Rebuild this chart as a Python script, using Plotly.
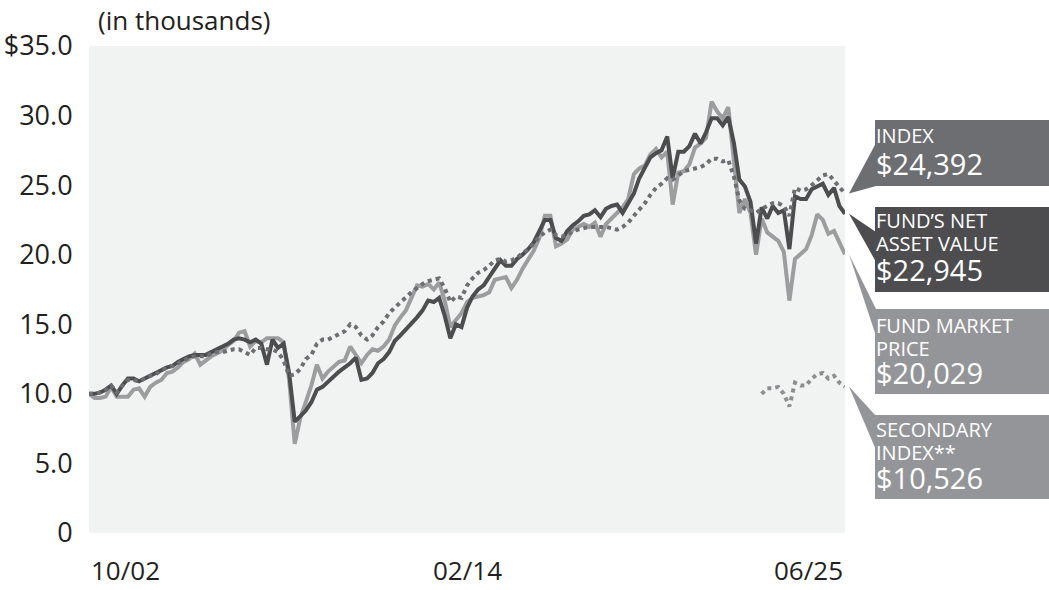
import plotly.graph_objects as go
import pandas as pd

# ---------------- data (values in $ thousands) ----------------
dates = pd.date_range("2002-10-01", "2025-06-01", freq="2MS")
sec_dates = pd.date_range("2022-12-01", "2025-06-01", freq="2MS")

nav = [
    10.0, 10.0, 10.1, 10.3, 10.6, 10.0, 10.6, 11.1, 11.1, 10.9,
    11.1, 11.3, 11.5, 11.7, 11.9, 12.0, 12.3, 12.5, 12.7, 12.8,
    12.8, 12.8, 13.0, 13.2, 13.4, 13.6, 13.9, 14.0, 13.9, 13.7,
    13.9, 13.6, 12.1, 13.9, 13.3, 13.6, 11.5, 8.0, 8.4, 8.8,
    9.4, 10.3, 10.5, 10.9, 11.3, 11.6, 11.9, 12.2, 12.6, 11.0,
    11.1, 11.5, 12.2, 12.5, 13.0, 13.8, 14.2, 14.6, 15.1, 15.5,
    16.0, 16.7, 16.6, 16.9, 15.6, 14.0, 15.0, 14.8, 16.2, 17.0,
    17.5, 17.8, 18.4, 19.0, 19.6, 19.2, 19.2, 19.7, 20.0, 20.4,
    20.9, 21.7, 22.5, 22.5, 21.2, 21.0, 21.7, 22.1, 22.4, 22.8,
    22.9, 23.2, 22.7, 23.3, 23.5, 23.6, 23.0, 23.7, 24.4, 25.5,
    26.3, 27.0, 27.3, 27.5, 28.5, 25.5, 27.4, 27.4, 27.8, 28.7,
    28.0, 28.8, 29.8, 29.8, 29.3, 29.9, 28.0, 25.4, 24.9, 23.8,
    20.8, 23.4, 22.6, 23.5, 23.0, 23.2, 20.4, 24.2, 24.0, 24.0,
    24.7, 24.9, 25.1, 24.3, 24.8, 23.5, 22.945,
]
market = [
    10.0, 9.7, 9.7, 9.8, 10.5, 9.8, 9.8, 9.8, 10.3, 10.4,
    9.8, 10.5, 10.8, 11.0, 11.5, 11.6, 11.9, 12.3, 12.5, 12.9,
    12.1, 12.4, 12.7, 12.9, 13.1, 13.5, 13.8, 14.4, 14.5, 13.4,
    13.8, 13.7, 14.0, 14.0, 14.0, 13.7, 11.0, 6.4, 8.3, 9.4,
    10.6, 12.1, 11.1, 11.6, 12.0, 12.3, 12.4, 13.4, 12.8, 12.2,
    12.8, 13.2, 13.1, 13.4, 13.9, 14.9, 15.5, 16.0, 16.9, 17.8,
    17.7, 17.9, 17.5, 18.0, 16.7, 14.8, 15.3, 15.8, 16.6, 16.9,
    17.0, 17.1, 17.3, 18.2, 18.3, 18.4, 17.6, 18.2, 19.0, 19.7,
    20.3, 21.2, 22.8, 22.8, 20.6, 20.8, 21.1, 21.8, 22.0, 22.2,
    22.0, 22.3, 21.3, 22.2, 22.6, 23.0, 23.4, 24.0, 25.8, 26.2,
    26.4, 27.2, 27.6, 27.0, 27.4, 23.6, 25.9, 26.0, 26.5, 27.7,
    28.0, 28.4, 31.0, 30.3, 29.8, 30.6, 27.0, 23.0, 24.0, 23.0,
    20.0, 22.6, 21.6, 21.3, 21.0, 20.2, 16.7, 19.7, 20.1, 20.4,
    21.4, 22.9, 22.5, 21.5, 21.7, 20.8, 20.029,
]
index = [
    10.0, 10.0, 10.1, 10.3, 10.6, 10.1, 10.6, 11.0, 11.0, 10.9,
    11.1, 11.3, 11.4, 11.7, 11.9, 12.0, 12.2, 12.4, 12.6, 12.7,
    12.7, 12.7, 12.9, 13.0, 13.0, 13.1, 13.2, 13.2, 13.0, 12.8,
    13.3, 13.3, 13.2, 13.2, 13.0, 12.4, 11.3, 11.4, 11.8, 12.5,
    12.8, 13.6, 13.9, 13.9, 14.1, 14.3, 14.5, 15.0, 14.8, 14.2,
    13.9, 14.2, 14.8, 15.2, 15.8, 16.2, 16.6, 16.9, 17.3, 17.6,
    17.9, 18.1, 18.2, 18.3, 17.6, 16.6, 17.0, 16.9, 17.8, 18.3,
    18.7, 18.9, 19.2, 19.6, 19.7, 19.5, 19.6, 19.8, 20.1, 20.4,
    20.8, 21.3, 21.6, 21.8, 21.4, 21.3, 21.4, 21.7, 21.8, 21.9,
    22.0, 22.0, 22.0, 22.0, 21.9, 21.8, 22.0, 22.3, 22.8, 23.2,
    23.7, 24.3, 24.8, 25.1, 25.5, 25.4, 25.7, 26.0, 26.1, 26.2,
    26.3, 26.5, 26.9, 26.9, 26.7, 26.8, 25.6, 23.9, 23.3, 23.2,
    23.0, 23.3, 23.5, 23.7, 23.7, 23.5, 22.8, 24.8, 24.6, 24.7,
    25.0, 25.4, 25.7, 25.8, 25.3, 24.8, 24.392,
]
secondary = [10.0, 10.4, 10.4, 10.5, 10.0, 9.1, 10.8, 10.6, 10.6, 11.1,
             11.4, 11.5, 11.1, 11.3, 10.8, 10.526]

y_ticks = [0, 5, 10, 15, 20, 25, 30, 35]
y_tick_text = ["0", "5.0", "10.0", "15.0", "20.0", "25.0", "30.0", "$35.0"]
x_labels = ["10/02", "02/14", "06/25"]
x_label_dates = ["2002-10-01", "2014-02-01", "2025-06-01"]

legend_items = [
    # (label lines, value text, colour, final value)
    (["INDEX"], "$24,392", "#6d6e71", index[-1]),
    (["FUND\u2019S NET", "ASSET VALUE"], "$22,945", "#4d4d4f", nav[-1]),
    (["FUND MARKET", "PRICE"], "$20,029", "#949598", market[-1]),
    (["SECONDARY", "INDEX**"], "$10,526", "#939598", secondary[-1]),
]

# ---------------- figure ----------------
W, H = 1049, 590
L, R, T, B = 89, 845, 46, 533  # plot area in page pixels
YMAX = 35.0


def px(x):
    return (x - L) / (R - L)


def py(y):
    return (B - y) / (B - T)


FONT = "Open Sans, Lato, DejaVu Sans, sans-serif"
TXT = "#231f20"

fig = go.Figure()
fig.add_trace(go.Scatter(x=dates, y=market, mode="lines", name="Fund Market Price",
                         line=dict(color="#9c9d9f", width=4)))
fig.add_trace(go.Scatter(x=dates, y=nav, mode="lines", name="Fund NAV",
                         line=dict(color="#4d4d4f", width=4)))
fig.add_trace(go.Scatter(x=dates, y=index, mode="lines", name="Index",
                         line=dict(color="#6d6e71", width=4, dash="dot")))
fig.add_trace(go.Scatter(x=sec_dates, y=secondary, mode="lines", name="Secondary Index",
                         line=dict(color="#8d8e90", width=4, dash="dot")))

shapes = []
annotations = []

# legend boxes: box top, box bottom, wedge base top/bottom, first label baseline, value baseline
boxes = [
    (120, 186, 143, 186, 142, 174),
    (207, 292, 232, 262, 227, 280),
    (309, 394, 309, 336, 332, 383),
    (415, 499, 416, 450, 436, 488),
]
for (lines, val, col, last), (bt, bb, wt, wb, bl1, blv) in zip(legend_items, boxes):
    shapes.append(dict(type="rect", xref="paper", yref="paper",
                       x0=px(875), x1=px(1060), y0=py(bb), y1=py(bt),
                       fillcolor=col, line=dict(width=0), layer="above"))
    tip_y = last / YMAX
    path = (f"M {px(849)},{tip_y} L {px(876)},{py(wt)} "
            f"L {px(876)},{py(wb)} Z")
    shapes.append(dict(type="path", xref="paper", yref="paper", path=path,
                       fillcolor=col, line=dict(width=0), layer="above"))
    txt = "<br>".join(f'<span style="font-size:20px">{t}</span>' for t in lines)
    annotations.append(dict(xref="paper", yref="paper", x=px(874), y=py(bl1 - 22.5),
                            text=txt, showarrow=False, xanchor="left", yanchor="top",
                            align="left",
                            font=dict(family=FONT, size=17.7, color="white")))
    annotations.append(dict(xref="paper", yref="paper", x=px(874), y=py(blv - 32),
                            text=val, showarrow=False, xanchor="left", yanchor="top",
                            font=dict(family=FONT, size=29, color="white")))

# x axis labels
for lab, d, anc in zip(x_labels, x_label_dates, ["left", "center", "right"]):
    annotations.append(dict(xref="x", yref="paper", x=d, y=py(570), text=lab,
                            showarrow=False, xanchor=anc, yanchor="middle",
                            font=dict(family=FONT, size=26, color=TXT)))

annotations.append(dict(xref="paper", yref="paper", x=px(96), y=py(20),
                        text="(in thousands)", showarrow=False, xanchor="left",
                        yanchor="middle", font=dict(family=FONT, size=26, color=TXT)))

fig.update_layout(
    width=W, height=H,
    margin=dict(l=L, r=W - R, t=T, b=H - B, autoexpand=False),
    paper_bgcolor="white", plot_bgcolor="#f1f2f2",
    showlegend=False,
    hovermode=False,
    shapes=shapes, annotations=annotations,
    xaxis=dict(type="date", range=["2002-10-01", "2025-06-01"], showticklabels=False,
               showgrid=False, zeroline=False, showline=False, ticks="",
               automargin=False),
    yaxis=dict(range=[0, YMAX], tickvals=y_ticks, ticktext=y_tick_text,
               showgrid=False, zeroline=False, showline=False,
               ticks="outside", ticklen=10, tickcolor="rgba(0,0,0,0)",
               automargin=False,
               tickfont=dict(family=FONT, size=27, color=TXT)),
)

# remove the browser's default 8px body margin so the figure fills the window
fig.write_html("out.html",
               config={"displayModeBar": False, "staticPlot": True},
               post_script="document.body.style.margin='0';document.body.style.overflow='hidden';")
